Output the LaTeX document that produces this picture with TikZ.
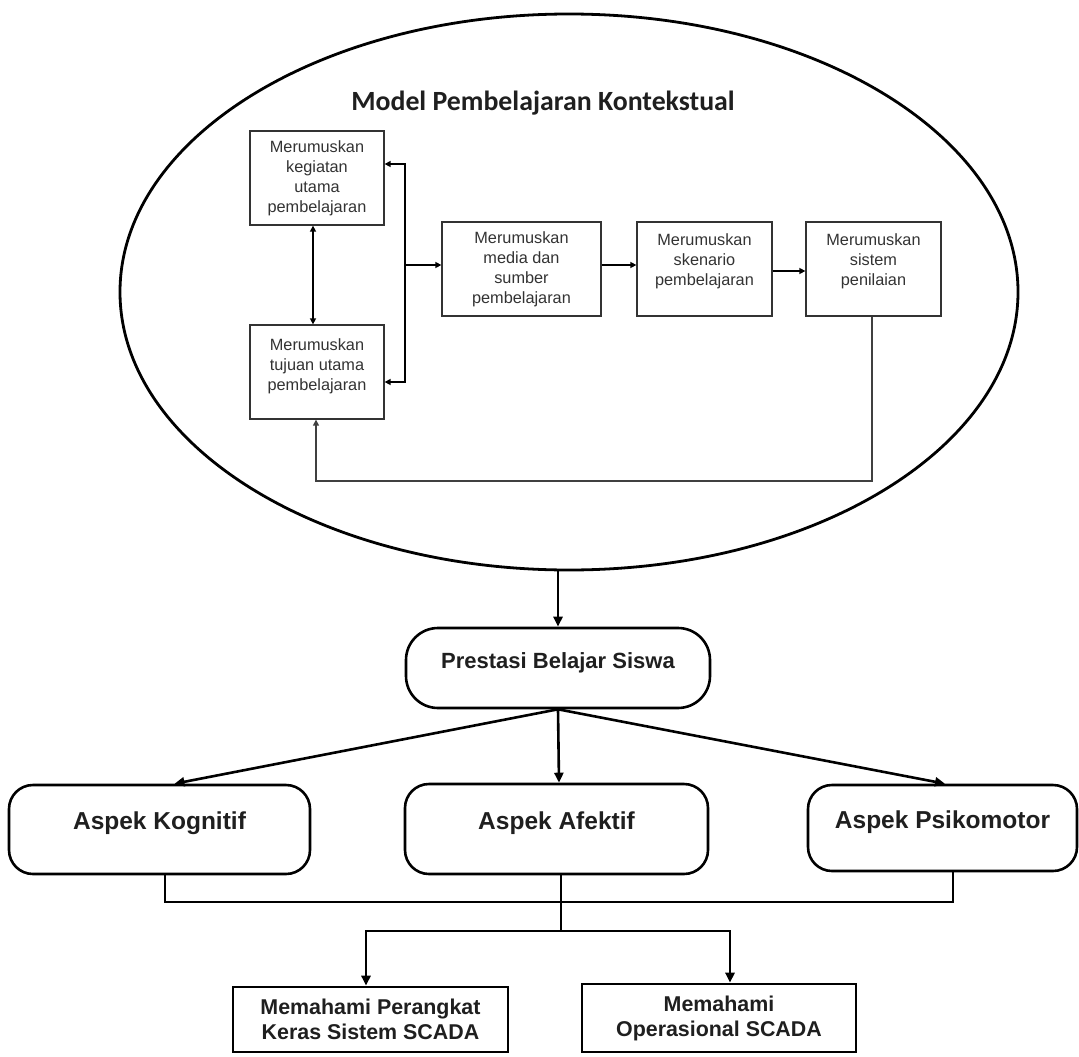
\documentclass[tikz,border=0pt]{standalone}
\usepackage{fontspec}
\setmainfont{Liberation Sans}
\newfontfamily\titlefont{Carlito}
\usetikzlibrary{arrows.meta,shapes.geometric}

\begin{document}
\begin{tikzpicture}[x=1pt,y=-1pt,
  ibox/.style={draw=black!80, line width=1.3pt, inner sep=0pt},
  itext/.style={align=center, font=\fontsize{16.3}{20}\selectfont, text=black!80, inner sep=0pt},
  rbox/.style={draw, line width=2.6pt, rounded corners=24pt, inner sep=0pt,
    font=\bfseries\fontsize{24.5}{28}\selectfont, text=black!88, text height=12pt, text depth=12pt},
  sbox/.style={draw, line width=2.6pt, align=center, inner sep=0pt,
    font=\bfseries\fontsize{21.4}{25}\selectfont, text=black!88},
  itip/.tip={Triangle[length=6pt,width=6pt]},
  btip/.tip={Triangle[length=10pt,width=9pt]},
  iarr/.style={line width=1.8pt, -itip},
  iboth/.style={line width=1.8pt, itip-itip},
  fb/.style={line width=1.4pt, draw=black!75, -itip},
  barr/.style={line width=2.6pt, -btip},
  bline/.style={line width=2.6pt}
]
\useasboundingbox (0,0) rectangle (1079,1057);
\fill[white] (0,0) rectangle (1079,1057);

% contextual learning model
\node[ellipse, draw, line width=2.8pt, minimum width=898pt, minimum height=556pt, inner sep=0pt] (model) at (569,292) {};
\node[font=\titlefont\bfseries\fontsize{27.8}{32}\selectfont, text=black!88] (title) at (543,103) {Model Pembelajaran Kontekstual};

\node[ibox, minimum width=134pt, minimum height=94pt] (A) at (317,178) {};
\node[itext] (Atxt) at (A.center) {Merumuskan\\kegiatan\\utama\\pembelajaran};
\node[ibox, minimum width=134pt, minimum height=94pt] (B) at (317,372) {};
\node[itext] (Btxt) at ([yshift=6pt]B.center) {Merumuskan\\tujuan utama\\pembelajaran};
\node[ibox, minimum width=159pt, minimum height=94pt] (C) at (521.5,269) {};
\node[itext] (Ctxt) at (C.center) {Merumuskan\\media dan\\sumber\\pembelajaran};
\node[ibox, minimum width=135pt, minimum height=94pt] (D) at (704.5,269) {};
\node[itext] (Dtxt) at ([yshift=8pt]D.center) {Merumuskan\\skenario\\pembelajaran};
\node[ibox, minimum width=135pt, minimum height=94pt] (E) at (873.5,269) {};
\node[itext] (Etxt) at ([yshift=8pt]E.center) {Merumuskan\\sistem\\penilaian};

\coordinate (brk) at (405,265);
\coordinate (fbl) at (316,481);
\draw[iboth] ([xshift=-4pt]A.south) -- ([xshift=-4pt]B.north);
\draw[iboth] ([yshift=14pt]A.east) -| (brk) |- ([yshift=-10pt]B.east);
\draw[iarr] (brk) -- (C.west |- brk);
\draw[iarr] (C.east |- brk) -- (D.west |- brk);
\draw[iarr] ([yshift=-2pt]D.east) -- ([yshift=-2pt]E.west);
\draw[fb] ([xshift=-1.5pt]E.south) |- (fbl) -- (fbl |- B.south);

% learning achievement
\node[draw, line width=2.6pt, rounded corners=32pt, minimum width=304pt, minimum height=80pt, inner sep=0pt,
  font=\bfseries\fontsize{22}{26}\selectfont, text=black!88, text height=11pt, text depth=11pt] (prest) at (558,668) {Prestasi Belajar Siswa};
\draw[barr] (prest.north |- model.south) -- (prest.north);

\node[rbox, minimum width=301pt, minimum height=89pt] (kog) at (159.5,829.5) {Aspek Kognitif};
\node[rbox, minimum width=303pt, minimum height=90pt] (afe) at (556.5,829) {Aspek Afektif};
\node[rbox, minimum width=269pt, minimum height=86pt] (psi) at (942.5,828) {Aspek Psikomotor};

\draw[barr] (prest.south) -- ([xshift=15pt]kog.north);
\draw[barr] (prest.south) -- ([xshift=2.5pt]afe.north);
\draw[barr] (prest.south) -- ([xshift=2.5pt]psi.north);

% outcomes
\node[sbox, minimum width=275pt, minimum height=65pt] (F) at (370.5,1019.5) {Memahami Perangkat\\Keras Sistem SCADA};
\node[sbox, minimum width=274pt, minimum height=68pt] (G) at (719,1018) {Memahami\\Operasional SCADA};

\coordinate (bus) at (561,902);
\coordinate (split) at (561,931);
\draw[bline] ([xshift=5.5pt]kog.south) |- (bus) -| ([xshift=10.5pt]psi.south);
\draw[bline] ([xshift=4.5pt]afe.south) -- (split);
\draw[barr] (split) -| ([xshift=-4.5pt]F.north);
\draw[barr] (split) -| ([xshift=11pt]G.north);
\end{tikzpicture}
\end{document}
